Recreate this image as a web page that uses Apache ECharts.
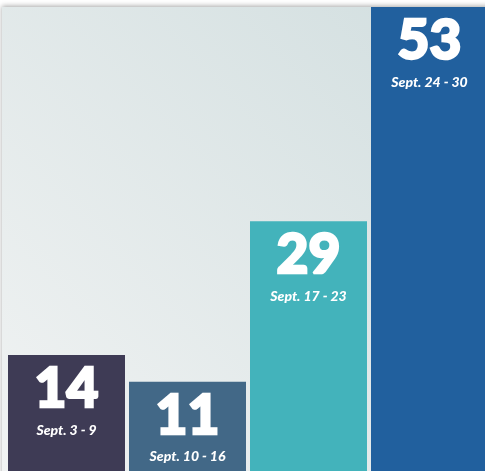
<!doctype html>
<html>
<head>
<meta charset="UTF-8">
<title>Weekly counts</title>
<script src="https://cdn.jsdelivr.net/npm/echarts@6/dist/echarts.min.js"></script>
<style>
  html, body { margin: 0; padding: 0; background: #fff; }
  #main { width: 485px; height: 471px; }
</style>
</head>
<body>
<div id="main"></div>
<script type="text/javascript">
// data
var weeks = ['Sept. 3 - 9', 'Sept. 10 - 16', 'Sept. 17 - 23', 'Sept. 24 - 30'];
var counts = [14, 11, 29, 53];

// bar colours, one per week
var barColors = ['#3e3b55', '#426887', '#43b3bb', '#21609e'];

var chart = echarts.init(document.getElementById('main'));

var seriesData = [];
for (var i = 0; i < counts.length; i++) {
  seriesData.push({ value: counts[i], itemStyle: { color: barColors[i] } });
}

var option = {
  animation: false,
  graphic: [{
    type: 'rect',
    z: -10,
    shape: { x: 2, y: 7, width: 490, height: 470 },
    style: {
      fill: new echarts.graphic.LinearGradient(0, 1, 1, 0, [
        { offset: 0, color: '#f1f3f3' },
        { offset: 1, color: '#d1dedf' }
      ]),
      shadowBlur: 5,
      shadowColor: 'rgba(0,0,0,0.35)',
      shadowOffsetY: -1
    }
  }],
  grid: { left: 6, right: -5, top: 7, bottom: 0, outerBoundsMode: 'none' },
  xAxis: {
    type: 'category',
    data: weeks,
    show: false
  },
  yAxis: {
    type: 'value',
    min: 1,
    max: 53,
    show: false
  },
  series: [{
    type: 'bar',
    data: seriesData,
    barWidth: 117,
    label: {
      show: true,
      position: 'insideTop',
      distance: 3,
      color: '#fff',
      formatter: function (p) {
        return '{n|' + p.value + '}\n{s|' + p.name + '}';
      },
      rich: {
        n: {
          fontFamily: 'Lato',
          fontWeight: 900,
          fontSize: 55,
          lineHeight: 63,
          color: '#fff',
          textBorderColor: '#fff',
          textBorderWidth: 2.5,
          align: 'center'
        },
        s: {
          fontFamily: 'Lato',
          fontWeight: 900,
          fontStyle: 'italic',
          fontSize: 14,
          lineHeight: 18,
          color: '#fff',
          align: 'center'
        }
      }
    }
  }]
};

chart.setOption(option);
</script>
</body>
</html>
